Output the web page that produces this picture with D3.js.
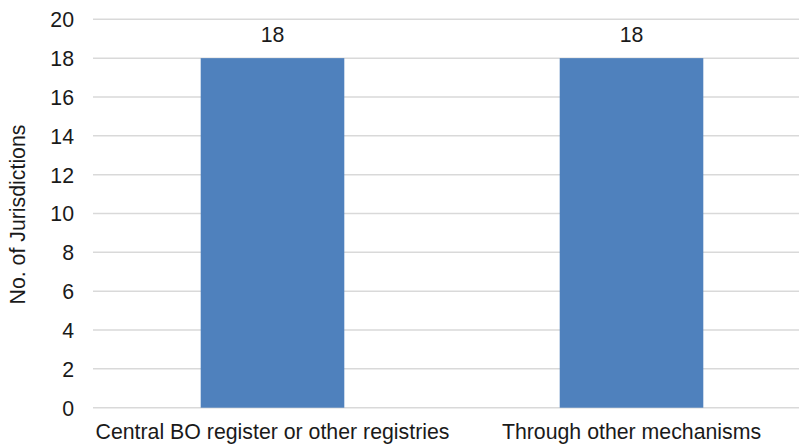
<!DOCTYPE html>
<html>
<head>
<meta charset="utf-8">
<script src="https://d3js.org/d3.v7.min.js"></script>
<style>
  html, body { margin: 0; padding: 0; background: #fff; }
  svg { display: block; font-family: "Liberation Sans", Arial, sans-serif; }
</style>
</head>
<body>
<svg id="chart" width="799" height="446"></svg>
<script>
// Jurisdictions by mechanism used to obtain beneficial ownership information
const categories = ["Central BO register or other registries", "Through other mechanisms"];
const values = [18, 18];
const yTicks = [0, 2, 4, 6, 8, 10, 12, 14, 16, 18, 20];
const yTitle = "No. of Jurisdictions";

const W = 799, H = 446;
const plot = { left: 93, right: 811, top: 19.3, bottom: 407.7 };
const fontSize = 21.3;

const svg = d3.select("#chart");

const x = d3.scaleBand()
  .domain(categories)
  .range([plot.left, plot.right])
  .paddingInner(0.6)
  .paddingOuter(0.3);

const y = d3.scaleLinear()
  .domain([0, 20])
  .range([plot.bottom, plot.top]);

// horizontal gridlines
svg.append("g")
  .selectAll("line")
  .data(yTicks)
  .join("line")
  .attr("x1", plot.left)
  .attr("x2", W)
  .attr("y1", d => y(d))
  .attr("y2", d => y(d))
  .attr("stroke", "#d9d9d9")
  .attr("stroke-width", 1.5);

// y axis tick labels
const yAxis = d3.axisLeft(y).tickValues(yTicks).tickSize(0).tickPadding(0);
const gy = svg.append("g")
  .attr("transform", `translate(74,0)`)
  .call(yAxis);
gy.select(".domain").remove();
gy.selectAll("text")
  .attr("font-size", fontSize)
  .attr("font-family", "Liberation Sans, Arial, sans-serif")
  .attr("fill", "#1a1a1a")
  .attr("dy", "0.35em");

// bars
svg.append("g")
  .selectAll("rect")
  .data(categories)
  .join("rect")
  .attr("x", d => x(d))
  .attr("width", x.bandwidth())
  .attr("y", (d, i) => y(values[i]))
  .attr("height", (d, i) => y(0) - y(values[i]))
  .attr("fill", "#4f81bd");

// value labels above bars
svg.append("g")
  .selectAll("text")
  .data(categories)
  .join("text")
  .attr("x", d => x(d) + x.bandwidth() / 2)
  .attr("y", (d, i) => y(values[i]) - 16.5)
  .attr("text-anchor", "middle")
  .attr("font-size", fontSize)
  .attr("fill", "#1a1a1a")
  .text((d, i) => values[i]);

// category labels
const xAxis = d3.axisBottom(x).tickSize(0).tickPadding(0);
const gx = svg.append("g")
  .attr("transform", `translate(0,${plot.bottom})`)
  .call(xAxis);
gx.select(".domain").remove();
gx.selectAll("text")
  .attr("font-size", fontSize)
  .attr("font-family", "Liberation Sans, Arial, sans-serif")
  .attr("fill", "#1a1a1a")
  .attr("dy", null)
  .attr("y", 31);

// y axis title
svg.append("text")
  .attr("transform", `translate(25,${(plot.top + plot.bottom) / 2 + 1}) rotate(-90)`)
  .attr("text-anchor", "middle")
  .attr("font-size", fontSize)
  .attr("fill", "#1a1a1a")
  .text(yTitle);
</script>
</body>
</html>
